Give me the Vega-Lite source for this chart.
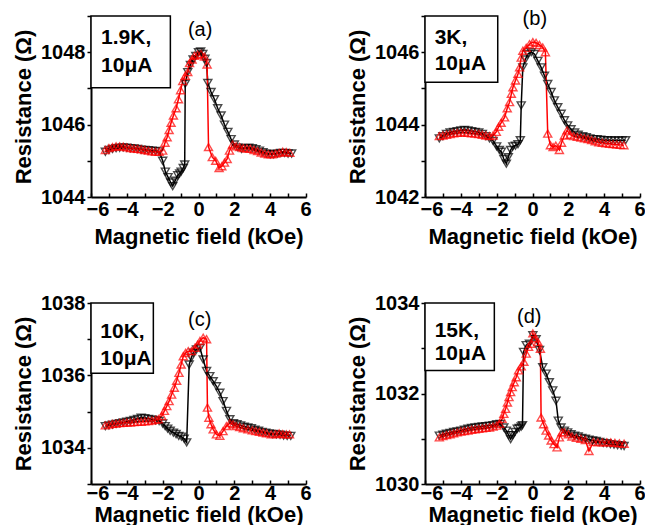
{
"$schema":"https://vega.github.io/schema/vega-lite/v6.json",
"background":"white",
"padding":{"left":12,"top":6,"right":0,"bottom":0},
"datasets":{
"a":[
{"s":"down","h":-5.2,"r":1045.25},{"s":"down","h":-5.0,"r":1045.3},{"s":"down","h":-4.8,"r":1045.33},{"s":"down","h":-4.6,"r":1045.35},{"s":"down","h":-4.4,"r":1045.36},{"s":"down","h":-4.2,"r":1045.37},{"s":"down","h":-4.0,"r":1045.36},{"s":"down","h":-3.8,"r":1045.35},{"s":"down","h":-3.6,"r":1045.34},{"s":"down","h":-3.4,"r":1045.33},{"s":"down","h":-3.2,"r":1045.31},{"s":"down","h":-3.0,"r":1045.3},{"s":"down","h":-2.8,"r":1045.29},{"s":"down","h":-2.6,"r":1045.28},{"s":"down","h":-2.4,"r":1045.27},{"s":"down","h":-2.2,"r":1045.26},
{"s":"down","h":-2.0,"r":1045.0},{"s":"down","h":-1.85,"r":1044.7},{"s":"down","h":-1.7,"r":1044.55},{"s":"down","h":-1.55,"r":1044.4},{"s":"down","h":-1.44,"r":1044.3},{"s":"down","h":-1.3,"r":1044.45},{"s":"down","h":-1.16,"r":1044.6},{"s":"down","h":-1.05,"r":1044.65},{"s":"down","h":-0.97,"r":1044.7},{"s":"down","h":-0.85,"r":1044.8},{"s":"down","h":-0.77,"r":1044.9},
{"s":"down","h":-0.74,"r":1047.13},{"s":"down","h":-0.6,"r":1047.45},{"s":"down","h":-0.45,"r":1047.65},{"s":"down","h":-0.3,"r":1047.8},{"s":"down","h":-0.15,"r":1047.9},{"s":"down","h":0.0,"r":1048.0},{"s":"down","h":0.12,"r":1048.02},{"s":"down","h":0.24,"r":1047.95},{"s":"down","h":0.36,"r":1047.82},{"s":"down","h":0.45,"r":1047.7},{"s":"down","h":0.52,"r":1047.15},{"s":"down","h":0.7,"r":1046.9},{"s":"down","h":0.89,"r":1046.7},{"s":"down","h":1.07,"r":1046.45},{"s":"down","h":1.26,"r":1046.25},{"s":"down","h":1.45,"r":1046.0},{"s":"down","h":1.64,"r":1045.8},{"s":"down","h":1.82,"r":1045.6},{"s":"down","h":2.0,"r":1045.45},{"s":"down","h":2.2,"r":1045.37},{"s":"down","h":2.4,"r":1045.33},{"s":"down","h":2.6,"r":1045.35},{"s":"down","h":2.8,"r":1045.36},{"s":"down","h":3.0,"r":1045.35},{"s":"down","h":3.2,"r":1045.32},{"s":"down","h":3.4,"r":1045.28},{"s":"down","h":3.6,"r":1045.24},{"s":"down","h":3.8,"r":1045.2},{"s":"down","h":4.0,"r":1045.18},{"s":"down","h":4.2,"r":1045.18},{"s":"down","h":4.4,"r":1045.2},{"s":"down","h":4.6,"r":1045.22},{"s":"down","h":4.8,"r":1045.22},{"s":"down","h":5.0,"r":1045.2},{"s":"down","h":5.2,"r":1045.2},
{"s":"up","h":-5.2,"r":1045.3},{"s":"up","h":-5.0,"r":1045.35},{"s":"up","h":-4.8,"r":1045.38},{"s":"up","h":-4.6,"r":1045.4},{"s":"up","h":-4.4,"r":1045.4},{"s":"up","h":-4.2,"r":1045.39},{"s":"up","h":-4.0,"r":1045.37},{"s":"up","h":-3.8,"r":1045.35},{"s":"up","h":-3.6,"r":1045.34},{"s":"up","h":-3.4,"r":1045.33},{"s":"up","h":-3.2,"r":1045.32},{"s":"up","h":-3.0,"r":1045.3},{"s":"up","h":-2.8,"r":1045.28},{"s":"up","h":-2.6,"r":1045.26},{"s":"up","h":-2.4,"r":1045.25},{"s":"up","h":-2.2,"r":1045.25},{"s":"up","h":-2.0,"r":1045.28},
{"s":"up","h":-1.87,"r":1045.5},{"s":"up","h":-1.75,"r":1045.65},{"s":"up","h":-1.64,"r":1045.85},{"s":"up","h":-1.53,"r":1046.05},{"s":"up","h":-1.4,"r":1046.25},{"s":"up","h":-1.25,"r":1046.45},{"s":"up","h":-1.12,"r":1046.7},{"s":"up","h":-1.0,"r":1046.95},{"s":"up","h":-0.88,"r":1047.2},{"s":"up","h":-0.74,"r":1047.35},{"s":"up","h":-0.6,"r":1047.45},{"s":"up","h":-0.5,"r":1047.7},{"s":"up","h":-0.36,"r":1047.8},{"s":"up","h":-0.22,"r":1047.9},{"s":"up","h":-0.05,"r":1047.93},{"s":"up","h":0.14,"r":1047.95},{"s":"up","h":0.33,"r":1047.88},{"s":"up","h":0.48,"r":1047.66},
{"s":"up","h":0.56,"r":1045.38},{"s":"up","h":0.77,"r":1045.1},{"s":"up","h":0.96,"r":1045.0},{"s":"up","h":1.15,"r":1044.8},{"s":"up","h":1.3,"r":1044.85},{"s":"up","h":1.45,"r":1044.95},{"s":"up","h":1.6,"r":1045.05},{"s":"up","h":1.73,"r":1045.28},{"s":"up","h":1.9,"r":1045.45},{"s":"up","h":2.1,"r":1045.4},{"s":"up","h":2.3,"r":1045.38},{"s":"up","h":2.5,"r":1045.35},{"s":"up","h":2.7,"r":1045.34},{"s":"up","h":2.9,"r":1045.33},{"s":"up","h":3.1,"r":1045.3},{"s":"up","h":3.3,"r":1045.27},{"s":"up","h":3.5,"r":1045.23},{"s":"up","h":3.7,"r":1045.2},{"s":"up","h":3.9,"r":1045.18},{"s":"up","h":4.1,"r":1045.18},{"s":"up","h":4.3,"r":1045.2},{"s":"up","h":4.5,"r":1045.22},{"s":"up","h":4.7,"r":1045.25},{"s":"up","h":4.9,"r":1045.24},{"s":"up","h":5.1,"r":1045.22}
],
"b":[
{"s":"down","h":-5.2,"r":1043.62},{"s":"down","h":-5.0,"r":1043.68},{"s":"down","h":-4.8,"r":1043.74},{"s":"down","h":-4.6,"r":1043.78},{"s":"down","h":-4.4,"r":1043.8},{"s":"down","h":-4.2,"r":1043.82},{"s":"down","h":-4.0,"r":1043.84},{"s":"down","h":-3.8,"r":1043.85},{"s":"down","h":-3.6,"r":1043.84},{"s":"down","h":-3.4,"r":1043.82},{"s":"down","h":-3.2,"r":1043.8},{"s":"down","h":-3.0,"r":1043.78},{"s":"down","h":-2.8,"r":1043.74},{"s":"down","h":-2.6,"r":1043.68},{"s":"down","h":-2.4,"r":1043.62},{"s":"down","h":-2.2,"r":1043.55},
{"s":"down","h":-2.0,"r":1043.4},{"s":"down","h":-1.85,"r":1043.3},{"s":"down","h":-1.74,"r":1043.25},{"s":"down","h":-1.6,"r":1043.05},{"s":"down","h":-1.46,"r":1042.92},{"s":"down","h":-1.35,"r":1043.1},{"s":"down","h":-1.22,"r":1043.3},{"s":"down","h":-1.1,"r":1043.4},{"s":"down","h":-0.95,"r":1043.42},{"s":"down","h":-0.81,"r":1043.46},{"s":"down","h":-0.68,"r":1043.57},
{"s":"down","h":-0.63,"r":1044.53},{"s":"down","h":-0.54,"r":1045.58},{"s":"down","h":-0.4,"r":1045.8},{"s":"down","h":-0.26,"r":1045.95},{"s":"down","h":-0.07,"r":1046.0},{"s":"down","h":0.11,"r":1045.95},{"s":"down","h":0.3,"r":1045.76},{"s":"down","h":0.48,"r":1045.58},{"s":"down","h":0.67,"r":1045.35},{"s":"down","h":0.85,"r":1045.12},{"s":"down","h":1.04,"r":1044.9},{"s":"down","h":1.22,"r":1044.67},{"s":"down","h":1.41,"r":1044.48},{"s":"down","h":1.6,"r":1044.3},{"s":"down","h":1.78,"r":1044.12},{"s":"down","h":1.96,"r":1043.98},{"s":"down","h":2.15,"r":1043.87},{"s":"down","h":2.35,"r":1043.78},{"s":"down","h":2.55,"r":1043.72},{"s":"down","h":2.8,"r":1043.68},{"s":"down","h":3.0,"r":1043.65},{"s":"down","h":3.2,"r":1043.62},{"s":"down","h":3.4,"r":1043.6},{"s":"down","h":3.6,"r":1043.6},{"s":"down","h":3.8,"r":1043.58},{"s":"down","h":4.0,"r":1043.57},{"s":"down","h":4.2,"r":1043.57},{"s":"down","h":4.4,"r":1043.56},{"s":"down","h":4.6,"r":1043.56},{"s":"down","h":4.8,"r":1043.56},{"s":"down","h":5.0,"r":1043.56},{"s":"down","h":5.2,"r":1043.57},
{"s":"up","h":-5.2,"r":1043.68},{"s":"up","h":-5.0,"r":1043.7},{"s":"up","h":-4.8,"r":1043.72},{"s":"up","h":-4.6,"r":1043.74},{"s":"up","h":-4.4,"r":1043.76},{"s":"up","h":-4.2,"r":1043.77},{"s":"up","h":-4.0,"r":1043.78},{"s":"up","h":-3.8,"r":1043.78},{"s":"up","h":-3.6,"r":1043.77},{"s":"up","h":-3.4,"r":1043.76},{"s":"up","h":-3.2,"r":1043.75},{"s":"up","h":-3.0,"r":1043.74},{"s":"up","h":-2.8,"r":1043.72},{"s":"up","h":-2.6,"r":1043.7},{"s":"up","h":-2.4,"r":1043.68},{"s":"up","h":-2.2,"r":1043.7},
{"s":"up","h":-2.02,"r":1043.8},{"s":"up","h":-1.89,"r":1043.94},{"s":"up","h":-1.75,"r":1044.05},{"s":"up","h":-1.56,"r":1044.2},{"s":"up","h":-1.41,"r":1044.45},{"s":"up","h":-1.28,"r":1044.62},{"s":"up","h":-1.18,"r":1044.85},{"s":"up","h":-1.09,"r":1045.03},{"s":"up","h":-0.95,"r":1045.22},{"s":"up","h":-0.81,"r":1045.4},{"s":"up","h":-0.72,"r":1045.58},{"s":"up","h":-0.63,"r":1045.85},{"s":"up","h":-0.54,"r":1046.04},{"s":"up","h":-0.35,"r":1046.12},{"s":"up","h":-0.17,"r":1046.22},{"s":"up","h":0.02,"r":1046.28},{"s":"up","h":0.2,"r":1046.26},{"s":"up","h":0.39,"r":1046.2},{"s":"up","h":0.57,"r":1046.13},{"s":"up","h":0.72,"r":1046.0},
{"s":"up","h":0.85,"r":1043.75},{"s":"up","h":1.0,"r":1043.43},{"s":"up","h":1.15,"r":1043.38},{"s":"up","h":1.3,"r":1043.42},{"s":"up","h":1.5,"r":1043.3},{"s":"up","h":1.62,"r":1043.5},{"s":"up","h":1.78,"r":1043.7},{"s":"up","h":1.93,"r":1043.84},{"s":"up","h":2.1,"r":1043.72},{"s":"up","h":2.3,"r":1043.68},{"s":"up","h":2.5,"r":1043.66},{"s":"up","h":2.7,"r":1043.64},{"s":"up","h":2.9,"r":1043.62},{"s":"up","h":3.1,"r":1043.6},{"s":"up","h":3.3,"r":1043.57},{"s":"up","h":3.5,"r":1043.54},{"s":"up","h":3.7,"r":1043.51},{"s":"up","h":3.9,"r":1043.5},{"s":"up","h":4.1,"r":1043.48},{"s":"up","h":4.3,"r":1043.47},{"s":"up","h":4.5,"r":1043.46},{"s":"up","h":4.7,"r":1043.45},{"s":"up","h":4.9,"r":1043.44},{"s":"up","h":5.1,"r":1043.43}
],
"c":[
{"s":"down","h":-5.2,"r":1034.6},{"s":"down","h":-5.0,"r":1034.62},{"s":"down","h":-4.8,"r":1034.64},{"s":"down","h":-4.6,"r":1034.66},{"s":"down","h":-4.4,"r":1034.68},{"s":"down","h":-4.2,"r":1034.7},{"s":"down","h":-4.0,"r":1034.72},{"s":"down","h":-3.8,"r":1034.74},{"s":"down","h":-3.6,"r":1034.77},{"s":"down","h":-3.4,"r":1034.8},{"s":"down","h":-3.2,"r":1034.83},{"s":"down","h":-3.0,"r":1034.82},{"s":"down","h":-2.8,"r":1034.8},{"s":"down","h":-2.6,"r":1034.78},{"s":"down","h":-2.4,"r":1034.76},{"s":"down","h":-2.2,"r":1034.74},{"s":"down","h":-2.0,"r":1034.67},
{"s":"down","h":-1.86,"r":1034.6},{"s":"down","h":-1.72,"r":1034.53},{"s":"down","h":-1.58,"r":1034.47},{"s":"down","h":-1.4,"r":1034.42},{"s":"down","h":-1.25,"r":1034.38},{"s":"down","h":-1.1,"r":1034.33},{"s":"down","h":-0.95,"r":1034.31},{"s":"down","h":-0.8,"r":1034.25},{"s":"down","h":-0.66,"r":1034.15},
{"s":"down","h":-0.52,"r":1036.3},{"s":"down","h":-0.4,"r":1036.49},{"s":"down","h":-0.29,"r":1036.63},{"s":"down","h":-0.11,"r":1036.72},{"s":"down","h":0.08,"r":1036.76},{"s":"down","h":0.26,"r":1036.44},{"s":"down","h":0.45,"r":1036.12},{"s":"down","h":0.63,"r":1035.98},{"s":"down","h":0.82,"r":1035.84},{"s":"down","h":1.0,"r":1035.7},{"s":"down","h":1.19,"r":1035.52},{"s":"down","h":1.37,"r":1035.29},{"s":"down","h":1.56,"r":1035.02},{"s":"down","h":1.75,"r":1034.79},{"s":"down","h":1.95,"r":1034.68},{"s":"down","h":2.15,"r":1034.65},{"s":"down","h":2.35,"r":1034.62},{"s":"down","h":2.55,"r":1034.58},{"s":"down","h":2.75,"r":1034.56},{"s":"down","h":2.95,"r":1034.54},{"s":"down","h":3.15,"r":1034.5},{"s":"down","h":3.35,"r":1034.47},{"s":"down","h":3.55,"r":1034.44},{"s":"down","h":3.75,"r":1034.42},{"s":"down","h":3.95,"r":1034.4},{"s":"down","h":4.15,"r":1034.38},{"s":"down","h":4.35,"r":1034.37},{"s":"down","h":4.55,"r":1034.36},{"s":"down","h":4.75,"r":1034.34},{"s":"down","h":4.95,"r":1034.33},{"s":"down","h":5.15,"r":1034.33},
{"s":"up","h":-5.2,"r":1034.62},{"s":"up","h":-5.0,"r":1034.64},{"s":"up","h":-4.8,"r":1034.66},{"s":"up","h":-4.6,"r":1034.67},{"s":"up","h":-4.4,"r":1034.68},{"s":"up","h":-4.2,"r":1034.69},{"s":"up","h":-4.0,"r":1034.7},{"s":"up","h":-3.8,"r":1034.7},{"s":"up","h":-3.6,"r":1034.71},{"s":"up","h":-3.4,"r":1034.72},{"s":"up","h":-3.2,"r":1034.72},{"s":"up","h":-3.0,"r":1034.73},{"s":"up","h":-2.8,"r":1034.74},{"s":"up","h":-2.6,"r":1034.75},{"s":"up","h":-2.4,"r":1034.77},{"s":"up","h":-2.24,"r":1034.79},
{"s":"up","h":-2.05,"r":1034.88},{"s":"up","h":-1.9,"r":1035.02},{"s":"up","h":-1.77,"r":1035.15},{"s":"up","h":-1.64,"r":1035.29},{"s":"up","h":-1.5,"r":1035.47},{"s":"up","h":-1.35,"r":1035.66},{"s":"up","h":-1.22,"r":1035.85},{"s":"up","h":-1.09,"r":1036.07},{"s":"up","h":-0.97,"r":1036.3},{"s":"up","h":-0.85,"r":1036.53},{"s":"up","h":-0.72,"r":1036.62},{"s":"up","h":-0.57,"r":1036.67},{"s":"up","h":-0.39,"r":1036.67},{"s":"up","h":-0.2,"r":1036.76},{"s":"up","h":-0.05,"r":1036.85},{"s":"up","h":0.08,"r":1036.95},{"s":"up","h":0.26,"r":1037.04},{"s":"up","h":0.45,"r":1037.0},
{"s":"up","h":0.5,"r":1035.11},{"s":"up","h":0.58,"r":1034.83},{"s":"up","h":0.7,"r":1034.65},{"s":"up","h":0.82,"r":1034.51},{"s":"up","h":1.0,"r":1034.37},{"s":"up","h":1.19,"r":1034.33},{"s":"up","h":1.37,"r":1034.46},{"s":"up","h":1.56,"r":1034.6},{"s":"up","h":1.75,"r":1034.68},{"s":"up","h":1.93,"r":1034.65},{"s":"up","h":2.1,"r":1034.6},{"s":"up","h":2.3,"r":1034.57},{"s":"up","h":2.5,"r":1034.54},{"s":"up","h":2.76,"r":1034.51},{"s":"up","h":3.0,"r":1034.48},{"s":"up","h":3.2,"r":1034.46},{"s":"up","h":3.4,"r":1034.44},{"s":"up","h":3.6,"r":1034.42},{"s":"up","h":3.8,"r":1034.4},{"s":"up","h":4.06,"r":1034.37},{"s":"up","h":4.3,"r":1034.38},{"s":"up","h":4.5,"r":1034.4},{"s":"up","h":4.7,"r":1034.38},{"s":"up","h":4.9,"r":1034.37},{"s":"up","h":5.08,"r":1034.37}
],
"d":[
{"s":"down","h":-5.2,"r":1031.07},{"s":"down","h":-5.0,"r":1031.09},{"s":"down","h":-4.8,"r":1031.11},{"s":"down","h":-4.6,"r":1031.13},{"s":"down","h":-4.4,"r":1031.15},{"s":"down","h":-4.2,"r":1031.16},{"s":"down","h":-4.0,"r":1031.18},{"s":"down","h":-3.8,"r":1031.2},{"s":"down","h":-3.6,"r":1031.22},{"s":"down","h":-3.4,"r":1031.24},{"s":"down","h":-3.2,"r":1031.25},{"s":"down","h":-3.0,"r":1031.26},{"s":"down","h":-2.8,"r":1031.27},{"s":"down","h":-2.6,"r":1031.28},{"s":"down","h":-2.4,"r":1031.29},{"s":"down","h":-2.2,"r":1031.3},{"s":"down","h":-2.0,"r":1031.32},{"s":"down","h":-1.8,"r":1031.33},
{"s":"down","h":-1.6,"r":1031.25},{"s":"down","h":-1.46,"r":1031.18},{"s":"down","h":-1.33,"r":1031.08},{"s":"down","h":-1.22,"r":1030.99},{"s":"down","h":-1.1,"r":1031.08},{"s":"down","h":-0.98,"r":1031.15},{"s":"down","h":-0.85,"r":1031.22},{"s":"down","h":-0.74,"r":1031.24},{"s":"down","h":-0.63,"r":1031.27},{"s":"down","h":-0.56,"r":1031.3},
{"s":"down","h":-0.5,"r":1032.92},{"s":"down","h":-0.35,"r":1033.07},{"s":"down","h":-0.17,"r":1033.1},{"s":"down","h":0.02,"r":1033.29},{"s":"down","h":0.2,"r":1033.2},{"s":"down","h":0.39,"r":1032.96},{"s":"down","h":0.57,"r":1032.58},{"s":"down","h":0.76,"r":1032.44},{"s":"down","h":0.94,"r":1032.25},{"s":"down","h":1.13,"r":1032.07},{"s":"down","h":1.31,"r":1031.84},{"s":"down","h":1.44,"r":1031.4},{"s":"down","h":1.59,"r":1031.25},{"s":"down","h":1.78,"r":1031.18},{"s":"down","h":1.96,"r":1031.14},{"s":"down","h":2.15,"r":1031.1},{"s":"down","h":2.35,"r":1031.07},{"s":"down","h":2.55,"r":1031.05},{"s":"down","h":2.75,"r":1031.02},{"s":"down","h":2.95,"r":1031.0},{"s":"down","h":3.15,"r":1030.98},{"s":"down","h":3.35,"r":1030.96},{"s":"down","h":3.55,"r":1030.95},{"s":"down","h":3.75,"r":1030.93},{"s":"down","h":3.95,"r":1030.91},{"s":"down","h":4.15,"r":1030.9},{"s":"down","h":4.35,"r":1030.88},{"s":"down","h":4.55,"r":1030.87},{"s":"down","h":4.75,"r":1030.86},{"s":"down","h":4.95,"r":1030.85},{"s":"down","h":5.11,"r":1030.84},
{"s":"up","h":-5.2,"r":1031.03},{"s":"up","h":-5.0,"r":1031.06},{"s":"up","h":-4.8,"r":1031.08},{"s":"up","h":-4.6,"r":1031.1},{"s":"up","h":-4.4,"r":1031.12},{"s":"up","h":-4.2,"r":1031.14},{"s":"up","h":-4.0,"r":1031.16},{"s":"up","h":-3.8,"r":1031.17},{"s":"up","h":-3.6,"r":1031.18},{"s":"up","h":-3.4,"r":1031.2},{"s":"up","h":-3.2,"r":1031.21},{"s":"up","h":-3.0,"r":1031.22},{"s":"up","h":-2.8,"r":1031.23},{"s":"up","h":-2.6,"r":1031.24},{"s":"up","h":-2.4,"r":1031.25},{"s":"up","h":-2.2,"r":1031.27},{"s":"up","h":-2.0,"r":1031.29},{"s":"up","h":-1.83,"r":1031.33},
{"s":"up","h":-1.7,"r":1031.44},{"s":"up","h":-1.6,"r":1031.55},{"s":"up","h":-1.5,"r":1031.66},{"s":"up","h":-1.4,"r":1031.8},{"s":"up","h":-1.31,"r":1031.92},{"s":"up","h":-1.22,"r":1032.03},{"s":"up","h":-1.13,"r":1032.14},{"s":"up","h":-1.02,"r":1032.25},{"s":"up","h":-0.91,"r":1032.36},{"s":"up","h":-0.78,"r":1032.51},{"s":"up","h":-0.63,"r":1032.6},{"s":"up","h":-0.48,"r":1032.7},{"s":"up","h":-0.35,"r":1032.88},{"s":"up","h":-0.22,"r":1033.03},{"s":"up","h":-0.1,"r":1033.1},{"s":"up","h":0.02,"r":1033.33},{"s":"up","h":0.15,"r":1033.22},{"s":"up","h":0.3,"r":1033.14},{"s":"up","h":0.44,"r":1032.99},
{"s":"up","h":0.48,"r":1031.47},{"s":"up","h":0.62,"r":1031.32},{"s":"up","h":0.76,"r":1031.18},{"s":"up","h":0.9,"r":1031.07},{"s":"up","h":1.04,"r":1030.96},{"s":"up","h":1.2,"r":1030.88},{"s":"up","h":1.37,"r":1030.81},{"s":"up","h":1.5,"r":1031.03},{"s":"up","h":1.64,"r":1031.14},{"s":"up","h":1.78,"r":1031.14},{"s":"up","h":2.0,"r":1031.1},{"s":"up","h":2.2,"r":1031.05},{"s":"up","h":2.45,"r":1031.02},{"s":"up","h":2.7,"r":1031.0},{"s":"up","h":2.95,"r":1030.97},{"s":"up","h":3.15,"r":1030.73},{"s":"up","h":3.4,"r":1030.93},{"s":"up","h":3.65,"r":1030.92},{"s":"up","h":3.9,"r":1030.92},{"s":"up","h":4.15,"r":1030.92},{"s":"up","h":4.37,"r":1030.92},{"s":"up","h":4.6,"r":1030.91},{"s":"up","h":4.85,"r":1030.9},{"s":"up","h":5.11,"r":1030.89}
]
},
"vconcat":[
{"hconcat":[
{"width":215,"height":181,
"encoding":{"x":{"field":"h","type":"quantitative","title":"Magnetic field (kOe)","scale":{"domain":[-6,6]},"axis":{"values":[-6,-5,-4,-3,-2,-1,0,1,2,3,4,5,6],"labelExpr":"datum.value % 2 == 0 ? datum.label : ''","labelOverlap":false,"labelFlush":true,"labelFlushOffset":5}},"y":{"field":"r","type":"quantitative","title":"Resistance (Ω)","scale":{"domain":[1044,1049],"zero":false},"axis":{"values":[1044,1045,1046,1047,1048,1049],"format":"d","labelExpr":"datum.value % 2 == 0 ? datum.label : ''","labelOverlap":false}}},
"layer":[
{"data":{"name":"a"},"mark":{"type":"line","strokeWidth":1.5},"encoding":{"color":{"field":"s","type":"nominal","scale":{"domain":["down","up"],"range":["black","#ff0000"]},"legend":null}}},
{"data":{"name":"a"},"mark":{"type":"point","filled":false,"size":65,"strokeWidth":1.4},"encoding":{"color":{"field":"s","type":"nominal","scale":{"domain":["down","up"],"range":["black","#ff0000"]},"legend":null},"shape":{"field":"s","type":"nominal","scale":{"domain":["down","up"],"range":["triangle-down","triangle-up"]},"legend":null}}},
{"data":{"values":[{"h":-6,"h2":-1.57,"r":1047.02,"r2":1049}]},"mark":{"type":"rect","fill":"white","stroke":"black","strokeWidth":1.5},"encoding":{"x2":{"field":"h2"},"y2":{"field":"r2"}}},
{"data":{"values":[{"t":"1.9K,","h":-5.44,"r":1048.24},{"t":"10μA","h":-5.44,"r":1047.45}]},"mark":{"type":"text","align":"left","baseline":"alphabetic","fontSize":21,"fontWeight":"bold","font":"Liberation Sans","color":"black"},"encoding":{"text":{"field":"t"}}},
{"data":{"values":[{"t":"(a)","h":0.09,"r":1048.61}]},"mark":{"type":"text","align":"center","baseline":"middle","fontSize":20,"font":"Liberation Sans","color":"black"},"encoding":{"text":{"field":"t"}}}
]},
{"width":215,"height":181,
"encoding":{"x":{"field":"h","type":"quantitative","title":"Magnetic field (kOe)","scale":{"domain":[-6,6]},"axis":{"values":[-6,-5,-4,-3,-2,-1,0,1,2,3,4,5,6],"labelExpr":"datum.value % 2 == 0 ? datum.label : ''","labelOverlap":false,"labelFlush":true,"labelFlushOffset":5}},"y":{"field":"r","type":"quantitative","title":"Resistance (Ω)","scale":{"domain":[1042,1047],"zero":false},"axis":{"values":[1042,1043,1044,1045,1046,1047],"format":"d","labelExpr":"datum.value % 2 == 0 ? datum.label : ''","labelOverlap":false}}},
"layer":[
{"data":{"name":"b"},"mark":{"type":"line","strokeWidth":1.5},"encoding":{"color":{"field":"s","type":"nominal","scale":{"domain":["down","up"],"range":["black","#ff0000"]},"legend":null}}},
{"data":{"name":"b"},"mark":{"type":"point","filled":false,"size":65,"strokeWidth":1.4},"encoding":{"color":{"field":"s","type":"nominal","scale":{"domain":["down","up"],"range":["black","#ff0000"]},"legend":null},"shape":{"field":"s","type":"nominal","scale":{"domain":["down","up"],"range":["triangle-down","triangle-up"]},"legend":null}}},
{"data":{"values":[{"h":-6,"h2":-1.94,"r":1045.17,"r2":1047}]},"mark":{"type":"rect","fill":"white","stroke":"black","strokeWidth":1.5},"encoding":{"x2":{"field":"h2"},"y2":{"field":"r2"}}},
{"data":{"values":[{"t":"3K,","h":-5.46,"r":1046.22},{"t":"10μA","h":-5.46,"r":1045.51}]},"mark":{"type":"text","align":"left","baseline":"alphabetic","fontSize":21,"fontWeight":"bold","font":"Liberation Sans","color":"black"},"encoding":{"text":{"field":"t"}}},
{"data":{"values":[{"t":"(b)","h":0.13,"r":1046.93}]},"mark":{"type":"text","align":"center","baseline":"middle","fontSize":20,"font":"Liberation Sans","color":"black"},"encoding":{"text":{"field":"t"}}}
]}
]},
{"hconcat":[
{"width":215,"height":181,
"encoding":{"x":{"field":"h","type":"quantitative","title":"Magnetic field (kOe)","scale":{"domain":[-6,6]},"axis":{"values":[-6,-5,-4,-3,-2,-1,0,1,2,3,4,5,6],"labelExpr":"datum.value % 2 == 0 ? datum.label : ''","labelOverlap":false,"labelFlush":true,"labelFlushOffset":5,"labelPadding":3,"titlePadding":1}},"y":{"field":"r","type":"quantitative","title":"Resistance (Ω)","scale":{"domain":[1033,1038],"zero":false},"axis":{"values":[1033,1034,1035,1036,1037,1038],"format":"d","labelExpr":"datum.value % 2 == 0 ? datum.label : ''","labelOverlap":false}}},
"layer":[
{"data":{"name":"c"},"mark":{"type":"line","strokeWidth":1.5},"encoding":{"color":{"field":"s","type":"nominal","scale":{"domain":["down","up"],"range":["black","#ff0000"]},"legend":null}}},
{"data":{"name":"c"},"mark":{"type":"point","filled":false,"size":65,"strokeWidth":1.4},"encoding":{"color":{"field":"s","type":"nominal","scale":{"domain":["down","up"],"range":["black","#ff0000"]},"legend":null},"shape":{"field":"s","type":"nominal","scale":{"domain":["down","up"],"range":["triangle-down","triangle-up"]},"legend":null}}},
{"data":{"values":[{"h":-6,"h2":-2.52,"r":1036.06,"r2":1038}]},"mark":{"type":"rect","fill":"white","stroke":"black","strokeWidth":1.5},"encoding":{"x2":{"field":"h2"},"y2":{"field":"r2"}}},
{"data":{"values":[{"t":"10K,","h":-5.48,"r":1037.04},{"t":"10μA","h":-5.48,"r":1036.3}]},"mark":{"type":"text","align":"left","baseline":"alphabetic","fontSize":21,"fontWeight":"bold","font":"Liberation Sans","color":"black"},"encoding":{"text":{"field":"t"}}},
{"data":{"values":[{"t":"(c)","h":0.07,"r":1037.54}]},"mark":{"type":"text","align":"center","baseline":"middle","fontSize":20,"font":"Liberation Sans","color":"black"},"encoding":{"text":{"field":"t"}}}
]},
{"width":215,"height":181,
"encoding":{"x":{"field":"h","type":"quantitative","title":"Magnetic field (kOe)","scale":{"domain":[-6,6]},"axis":{"values":[-6,-5,-4,-3,-2,-1,0,1,2,3,4,5,6],"labelExpr":"datum.value % 2 == 0 ? datum.label : ''","labelOverlap":false,"labelFlush":true,"labelFlushOffset":5,"labelPadding":3,"titlePadding":1}},"y":{"field":"r","type":"quantitative","title":"Resistance (Ω)","scale":{"domain":[1030,1034],"zero":false},"axis":{"values":[1030,1031,1032,1033,1034],"format":"d","labelExpr":"datum.value % 2 == 0 ? datum.label : ''","labelOverlap":false}}},
"layer":[
{"data":{"name":"d"},"mark":{"type":"line","strokeWidth":1.5},"encoding":{"color":{"field":"s","type":"nominal","scale":{"domain":["down","up"],"range":["black","#ff0000"]},"legend":null}}},
{"data":{"name":"d"},"mark":{"type":"point","filled":false,"size":65,"strokeWidth":1.4},"encoding":{"color":{"field":"s","type":"nominal","scale":{"domain":["down","up"],"range":["black","#ff0000"]},"legend":null},"shape":{"field":"s","type":"nominal","scale":{"domain":["down","up"],"range":["triangle-down","triangle-up"]},"legend":null}}},
{"data":{"values":[{"h":-6,"h2":-2.13,"r":1032.51,"r2":1034}]},"mark":{"type":"rect","fill":"white","stroke":"black","strokeWidth":1.5},"encoding":{"x2":{"field":"h2"},"y2":{"field":"r2"}}},
{"data":{"values":[{"t":"15K,","h":-5.46,"r":1033.25},{"t":"10μA","h":-5.46,"r":1032.73}]},"mark":{"type":"text","align":"left","baseline":"alphabetic","fontSize":21,"fontWeight":"bold","font":"Liberation Sans","color":"black"},"encoding":{"text":{"field":"t"}}},
{"data":{"values":[{"t":"(d)","h":-0.18,"r":1033.7}]},"mark":{"type":"text","align":"center","baseline":"middle","fontSize":20,"font":"Liberation Sans","color":"black"},"encoding":{"text":{"field":"t"}}}
]}
]}
],
"spacing":46,
"config":{
"concat":{"spacing":35},
"view":{"stroke":null},
"font":"Liberation Sans",
"axis":{"labelFont":"Liberation Sans","labelFontWeight":"bold","labelFontSize":20,"labelColor":"black","titleFont":"Liberation Sans","titleFontWeight":"bold","titleFontSize":22,"titleColor":"black","domainColor":"black","domainWidth":2,"tickColor":"black","tickWidth":1.5,"grid":false,"labelOverlap":false},
"axisX":{"tickSize":-4,"labelPadding":6,"titlePadding":7},
"axisY":{"tickSize":4,"labelPadding":2,"titlePadding":5}
}
}
